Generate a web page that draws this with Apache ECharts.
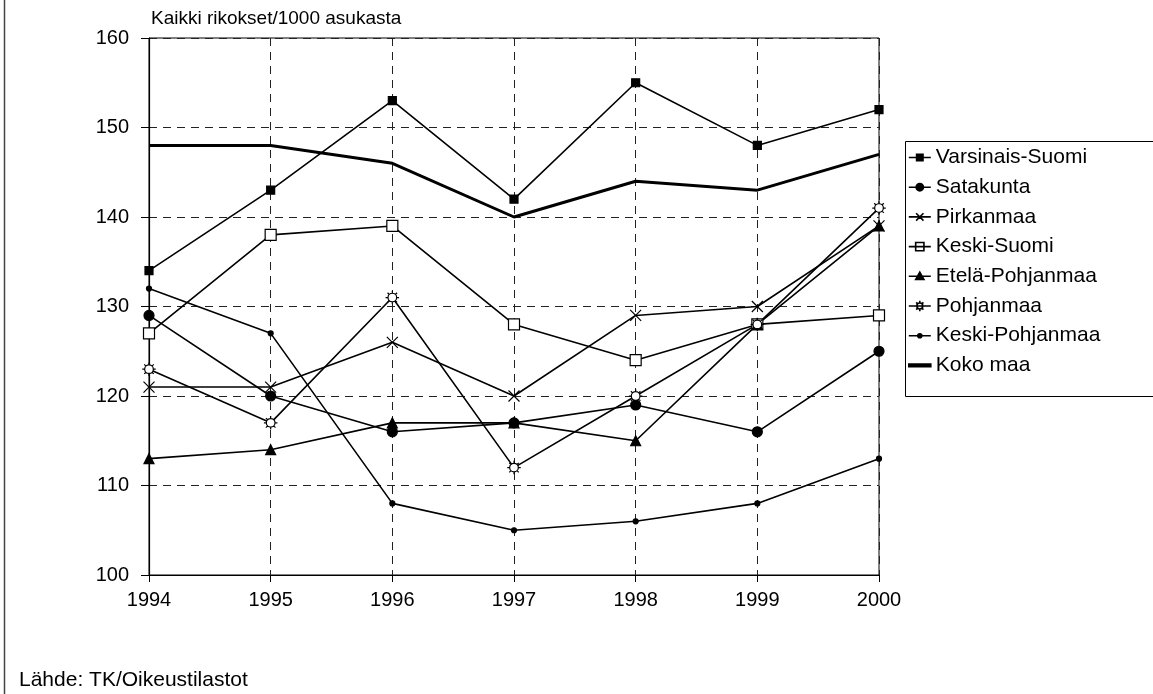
<!DOCTYPE html>
<html><head><meta charset="utf-8">
<script src="https://cdn.jsdelivr.net/npm/echarts@6/dist/echarts.min.js"></script>
<style>html,body{margin:0;padding:0;background:#fff}#c{width:1153px;height:694px}</style>
</head><body><div id="c"></div>
<script>
const years = ['1994','1995','1996','1997','1998','1999','2000'];
const yTicks = [100,110,120,130,140,150,160];
const varsinaisSuomi = [134,143,153,142,155,148,152];
const satakunta = [129,120,116,117,119,116,125];
const pirkanmaa = [121,121,126,120,129,130,139];
const keskiSuomi = [127,138,139,128,124,128,129];
const etelaPohjanmaa = [113,114,117,117,115,128,139];
const pohjanmaa = [123,117,131,112,120,128,141];
const keskiPohjanmaa = [132,127,108,105,106,108,113];
const kokoMaa = [148,148,146,140,144,143,147];
const names = ['Varsinais-Suomi','Satakunta','Pirkanmaa','Keski-Suomi','Etelä-Pohjanmaa','Pohjanmaa','Keski-Pohjanmaa','Koko maa'];

const FONT = '"Liberation Sans", Arial, sans-serif';
function circ(cx,cy,r){return `M${cx+r},${cy} A${r},${r} 0 1 1 ${cx-r},${cy} A${r},${r} 0 1 1 ${cx+r},${cy} Z`;}
function spikes(cx,cy,r,r2){let p='';for(let i=0;i<8;i++){const a=i*Math.PI/4;p+=` M${(cx+r*Math.cos(a)).toFixed(2)},${(cy+r*Math.sin(a)).toFixed(2)} L${(cx+r2*Math.cos(a)).toFixed(2)},${(cy+r2*Math.sin(a)).toFixed(2)}`;}return p;}
const sunSym = 'path://' + circ(10,10,4.8) + spikes(10,10,4.8,7.5) + ' M0,0 M20,20';
const xSym = 'path://M0,0L10,10M10,0L0,10';
// legend icons in a 24x12 box; corner dots fix the bounds
const corners = ' M0,0L0,0.01 M24,12L24,11.99';
const ln = 'M0,6L24,6 ';
const legendIcons = [
  'path://' + ln + 'M8.5,2.5h7v7h-7Z' + corners,
  'path://' + ln + circ(12,6,4) + corners,
  'path://' + ln + 'M8,2L16,10M16,2L8,10' + corners,
  'path://' + ln + 'M7.5,1.5h9v9h-9Z' + corners,
  'path://' + ln + 'M12,1.5L16.5,9.5L7.5,9.5Z' + corners,
  'path://' + ln + circ(12,6,3.2) + spikes(12,6,3.2,5.6) + corners,
  'path://' + ln + circ(12,6,2.2) + corners,
  'path://M0,4.5h24v3h-24Z' + corners
];
const legendFill = ['#000','#000','#000','#fff','#000','#fff','#000','#000'];
const specs = [
  {d:varsinaisSuomi, sym:'rect', size:8, fill:'#000'},
  {d:satakunta, sym:'circle', size:10, fill:'#000'},
  {d:pirkanmaa, sym:xSym, size:11, fill:'none'},
  {d:keskiSuomi, sym:'rect', size:11, fill:'#fff'},
  {d:etelaPohjanmaa, sym:'triangle', size:10, fill:'#000'},
  {d:pohjanmaa, sym:sunSym, size:18, fill:'#fff'},
  {d:keskiPohjanmaa, sym:'circle', size:5, fill:'#000'},
  {d:kokoMaa, sym:'none', size:0, fill:'#000', w:3}
];
const series = specs.map((s,i)=>({
  name:names[i], type:'line', data:s.d, symbol:s.sym, symbolSize:s.size,
  showAllSymbol:true, animation:false, z: i===7?3:2,
  lineStyle:{color:'#000', width:s.w||1.6},
  itemStyle:{color:s.fill==='none'?'rgba(0,0,0,0)':s.fill, borderColor:'#000', borderWidth:1.2, opacity:1},
  emphasis:{disabled:true}
}));
const chart = echarts.init(document.getElementById('c'), null, {renderer:'canvas'});
chart.setOption({
  backgroundColor:'#fff',
  animation:false,
  textStyle:{fontFamily:FONT},
  grid:{left:149, right:274, top:38, bottom:119, show:true, borderColor:'#000', borderWidth:1, backgroundColor:'transparent'},
  xAxis:{type:'category', data:years, boundaryGap:false,
    axisLine:{show:true, lineStyle:{color:'#000', width:1.2}},
    axisTick:{show:true, length:7, lineStyle:{color:'#000'}},
    axisLabel:{color:'#000', fontSize:20, margin:15, fontFamily:FONT},
    splitLine:{show:true, lineStyle:{color:'#222', type:[8,6], width:1}}},
  yAxis:{type:'value', min:100, max:160, interval:10,
    axisLine:{show:true, lineStyle:{color:'#000', width:1.2}},
    axisTick:{show:true, length:8, lineStyle:{color:'#000'}},
    axisLabel:{color:'#000', fontSize:20, margin:20, fontFamily:FONT},
    splitLine:{show:true, lineStyle:{color:'#222', type:[8,6], width:1}}},
  legend:{orient:'vertical', left:908, top:147, padding:0, itemWidth:22, itemHeight:11, itemGap:8.7,
    textStyle:{color:'#000', fontSize:21, fontFamily:FONT, lineHeight:20},
    data:names.map((n,i)=>({name:n, icon:legendIcons[i], itemStyle:{color:legendFill[i], borderColor:'#000', borderWidth:1.6}})),
    selectedMode:false},
  graphic:[
    {type:'rect', shape:{x:905.5, y:141.5, width:260, height:255}, style:{fill:'none', stroke:'#000', lineWidth:1}, z:0},
    {type:'line', shape:{x1:4.5, y1:0, x2:4.5, y2:694}, style:{stroke:'#444', lineWidth:1.5}},
    {type:'text', left:151, top:9, style:{text:'Kaikki rikokset/1000 asukasta', fontSize:19, fill:'#000', fontFamily:FONT}},
    {type:'text', left:19, top:670, style:{text:'Lähde: TK/Oikeustilastot', fontSize:21, fill:'#000', fontFamily:FONT}}
  ],
  series: series
});
</script></body></html>
